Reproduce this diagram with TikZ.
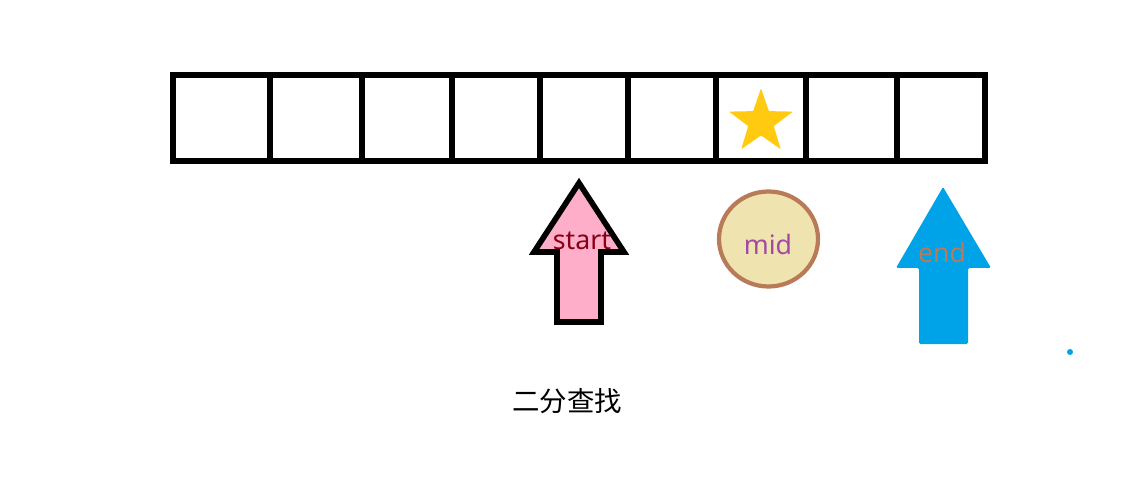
\documentclass[tikz,border=0pt]{standalone}
\usepackage{fontspec}
\setmainfont{Noto Sans}
\newfontfamily\cjkfont{Noto Sans CJK SC}
\usetikzlibrary{shapes.geometric}

\definecolor{starcol}{RGB}{255,202,16}
\definecolor{pinkfill}{RGB}{255,174,201}
\definecolor{darkred}{RGB}{136,0,21}
\definecolor{midfill}{RGB}{239,228,176}
\definecolor{midline}{RGB}{185,122,87}
\definecolor{midtext}{RGB}{163,73,164}
\definecolor{endblue}{RGB}{0,162,232}

\tikzset{
	label/.style={font=\fontsize{19}{21}\selectfont, inner sep=0pt},
}

\begin{document}
\begin{tikzpicture}[x=0.025cm, y=-0.025cm, line join=miter]
	\useasboundingbox (0, 0) rectangle (1131, 504);

	% row of cells
	\foreach \a/\b in {173/270, 270/362, 362/452, 452/540, 540/628, 628/716, 716/806, 806/897, 897/985}
		\draw[line width=4pt] (\a, 75) rectangle (\b, 161);
	\node[star, star points=5, star point ratio=2.5, fill=starcol, minimum size=1.68cm, inner sep=0pt, rounded corners=0.5pt] (goal) at (761, 122) {};

	% start pointer
	\draw[line width=4pt, fill=pinkfill] (579, 183) -- (624, 252) -- (601, 252) -- (601, 322) -- (557, 322) -- (557, 252) -- (534, 252) -- cycle;
	\node[label, darkred] (start) at (582, 241) {start};

	% mid
	\draw[line width=3pt, draw=midline, fill=midfill] (768.5, 239) ellipse [x radius=49.5, y radius=47.5];
	\node[label, midtext] (mid) at (768, 244) {mid};

	% end pointer
	\fill[endblue, rounded corners=1pt] (943, 187) -- (991, 268) -- (968, 268) -- (968, 344) -- (919, 344) -- (919, 268) -- (896, 268) -- cycle;
	\node[label, midline] (end) at (942, 252) {end};

	\fill[endblue] (1070, 352) circle [radius=3];

	\node[font=\cjkfont\fontsize{19.5}{21}\selectfont, inner sep=0pt] (title) at (567, 401) {二分查找};

\end{tikzpicture}
\end{document}
